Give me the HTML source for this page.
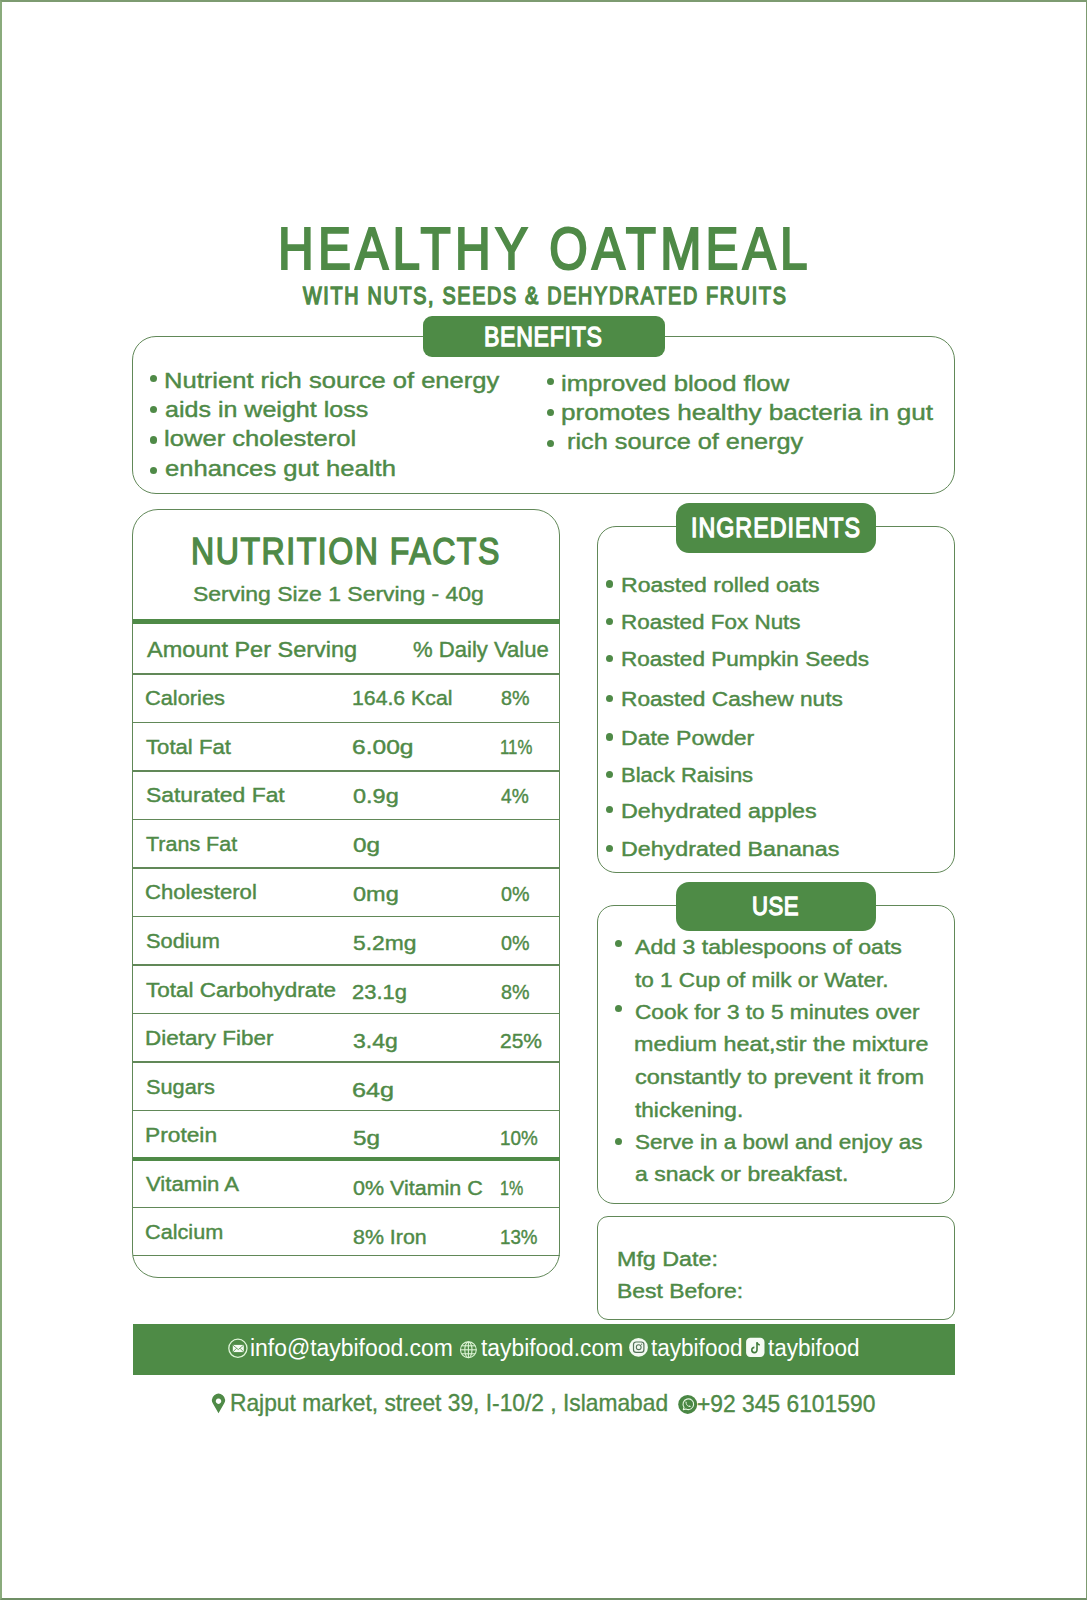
<!DOCTYPE html>
<html><head><meta charset="utf-8"><style>
html,body{margin:0;padding:0;background:#fff;}
body{width:1087px;height:1600px;position:relative;overflow:hidden;font-family:"Liberation Sans",sans-serif;}
.box{position:absolute;box-sizing:border-box;}
.t{position:absolute;white-space:nowrap;line-height:1;transform-origin:0 0;}
svg{position:absolute;}
</style></head><body>
<div class="box" style="left:0;top:0;width:1087px;height:1600px;box-sizing:border-box;border-style:solid;border-color:#7d9b71 #7d9b71 #6f8f65 #8aab7c;border-width:2px 1.3px 2px 2px"></div>
<div class="box" style="left:132.30px;top:335.70px;width:823.00px;height:157.90px;border-radius:24px;border:1.4px solid #618858"></div>
<div class="box" style="left:422.7px;top:316.3px;width:242.00px;height:40.40px;background:#4e8b46;border-radius:9px"></div>
<div class="box" style="left:150.20px;top:374.80px;width:7.2px;height:7.2px;border-radius:50%;background:#4f8a47"></div>
<div class="box" style="left:150.20px;top:405.70px;width:7.2px;height:7.2px;border-radius:50%;background:#4f8a47"></div>
<div class="box" style="left:150.20px;top:436.40px;width:7.2px;height:7.2px;border-radius:50%;background:#4f8a47"></div>
<div class="box" style="left:150.20px;top:466.80px;width:7.2px;height:7.2px;border-radius:50%;background:#4f8a47"></div>
<div class="box" style="left:546.50px;top:378.10px;width:7.2px;height:7.2px;border-radius:50%;background:#4f8a47"></div>
<div class="box" style="left:546.50px;top:408.80px;width:7.2px;height:7.2px;border-radius:50%;background:#4f8a47"></div>
<div class="box" style="left:546.50px;top:439.60px;width:7.2px;height:7.2px;border-radius:50%;background:#4f8a47"></div>
<div class="box" style="left:132.30px;top:509.10px;width:427.90px;height:769.10px;border-radius:26px;border:1.4px solid #618858"></div>
<div class="box" style="left:133px;top:619.2px;width:426.50px;height:4.60px;background:#4f8a47;border-radius:0px"></div>
<div class="box" style="left:133px;top:673.45px;width:426.50px;height:1.30px;background:#618858;border-radius:0px"></div>
<div class="box" style="left:133px;top:721.75px;width:426.50px;height:1.30px;background:#618858;border-radius:0px"></div>
<div class="box" style="left:133px;top:770.35px;width:426.50px;height:1.30px;background:#618858;border-radius:0px"></div>
<div class="box" style="left:133px;top:818.75px;width:426.50px;height:1.30px;background:#618858;border-radius:0px"></div>
<div class="box" style="left:133px;top:867.35px;width:426.50px;height:1.30px;background:#618858;border-radius:0px"></div>
<div class="box" style="left:133px;top:915.75px;width:426.50px;height:1.30px;background:#618858;border-radius:0px"></div>
<div class="box" style="left:133px;top:964.35px;width:426.50px;height:1.30px;background:#618858;border-radius:0px"></div>
<div class="box" style="left:133px;top:1012.75px;width:426.50px;height:1.30px;background:#618858;border-radius:0px"></div>
<div class="box" style="left:133px;top:1061.35px;width:426.50px;height:1.30px;background:#618858;border-radius:0px"></div>
<div class="box" style="left:133px;top:1109.75px;width:426.50px;height:1.30px;background:#618858;border-radius:0px"></div>
<div class="box" style="left:133px;top:1206.75px;width:426.50px;height:1.30px;background:#618858;border-radius:0px"></div>
<div class="box" style="left:133px;top:1254.9499999999998px;width:426.50px;height:1.30px;background:#618858;border-radius:0px"></div>
<div class="box" style="left:133px;top:1156.6px;width:426.50px;height:4.00px;background:#4f8a47;border-radius:0px"></div>
<div class="box" style="left:596.60px;top:526.10px;width:358.70px;height:347.10px;border-radius:19px;border:1.4px solid #618858"></div>
<div class="box" style="left:676.2px;top:502.5px;width:199.40px;height:50.30px;background:#4e8b46;border-radius:13px"></div>
<div class="box" style="left:606.10px;top:580.40px;width:7.2px;height:7.2px;border-radius:50%;background:#4f8a47"></div>
<div class="box" style="left:606.10px;top:618.10px;width:7.2px;height:7.2px;border-radius:50%;background:#4f8a47"></div>
<div class="box" style="left:606.10px;top:654.70px;width:7.2px;height:7.2px;border-radius:50%;background:#4f8a47"></div>
<div class="box" style="left:606.10px;top:695.00px;width:7.2px;height:7.2px;border-radius:50%;background:#4f8a47"></div>
<div class="box" style="left:606.10px;top:733.40px;width:7.2px;height:7.2px;border-radius:50%;background:#4f8a47"></div>
<div class="box" style="left:606.10px;top:771.10px;width:7.2px;height:7.2px;border-radius:50%;background:#4f8a47"></div>
<div class="box" style="left:606.10px;top:806.30px;width:7.2px;height:7.2px;border-radius:50%;background:#4f8a47"></div>
<div class="box" style="left:606.10px;top:844.70px;width:7.2px;height:7.2px;border-radius:50%;background:#4f8a47"></div>
<div class="box" style="left:596.60px;top:904.70px;width:358.70px;height:299.20px;border-radius:17px;border:1.4px solid #618858"></div>
<div class="box" style="left:676.2px;top:881.6px;width:199.40px;height:49.60px;background:#4e8b46;border-radius:13px"></div>
<div class="box" style="left:615.20px;top:940.00px;width:7.2px;height:7.2px;border-radius:50%;background:#4f8a47"></div>
<div class="box" style="left:615.20px;top:1004.50px;width:7.2px;height:7.2px;border-radius:50%;background:#4f8a47"></div>
<div class="box" style="left:615.20px;top:1138.20px;width:7.2px;height:7.2px;border-radius:50%;background:#4f8a47"></div>
<div class="box" style="left:596.60px;top:1215.80px;width:358.70px;height:103.90px;border-radius:11px;border:1.4px solid #618858"></div>
<div class="box" style="left:133px;top:1324.1px;width:821.60px;height:50.50px;background:#4e8b46;border-radius:0px"></div>
<div class="t" style="left:277.56px;top:220.41px;font-size:58.86px;font-weight:400;color:#4f8a47;transform:scaleX(0.8400);letter-spacing:5.083px;-webkit-text-stroke:2.2px #4f8a47;">HEALTHY OATMEAL</div>
<div class="t" style="left:302.60px;top:284.31px;font-size:24.70px;font-weight:400;color:#4f8a47;transform:scaleX(0.8000);letter-spacing:2.132px;-webkit-text-stroke:1.5px #4f8a47;">WITH NUTS, SEEDS &amp; DEHYDRATED FRUITS</div>
<div class="t" style="left:484.14px;top:324.05px;font-size:26.89px;font-weight:400;color:#ffffff;transform:scaleX(0.8600);letter-spacing:0.812px;-webkit-text-stroke:1.3px #ffffff;">BENEFITS</div>
<div class="t" style="left:164.43px;top:369.79px;font-size:21.17px;font-weight:400;color:#4f8a47;transform:scaleX(1.2083);-webkit-text-stroke:0.4px #4f8a47;">Nutrient rich source of energy</div>
<div class="t" style="left:165.04px;top:398.69px;font-size:21.17px;font-weight:400;color:#4f8a47;transform:scaleX(1.1836);-webkit-text-stroke:0.4px #4f8a47;">aids in weight loss</div>
<div class="t" style="left:164.43px;top:428.19px;font-size:21.17px;font-weight:400;color:#4f8a47;transform:scaleX(1.2106);-webkit-text-stroke:0.4px #4f8a47;">lower cholesterol</div>
<div class="t" style="left:165.04px;top:457.59px;font-size:21.17px;font-weight:400;color:#4f8a47;transform:scaleX(1.2119);-webkit-text-stroke:0.4px #4f8a47;">enhances gut health</div>
<div class="t" style="left:560.73px;top:372.99px;font-size:21.17px;font-weight:400;color:#4f8a47;transform:scaleX(1.2126);-webkit-text-stroke:0.4px #4f8a47;">improved blood flow</div>
<div class="t" style="left:560.71px;top:402.39px;font-size:21.17px;font-weight:400;color:#4f8a47;transform:scaleX(1.2356);-webkit-text-stroke:0.4px #4f8a47;">promotes healthy bacteria in gut</div>
<div class="t" style="left:566.64px;top:431.29px;font-size:21.17px;font-weight:400;color:#4f8a47;transform:scaleX(1.1957);-webkit-text-stroke:0.4px #4f8a47;">rich source of energy</div>
<div class="t" style="left:190.56px;top:533.26px;font-size:37.28px;font-weight:400;color:#4f8a47;transform:scaleX(0.8600);letter-spacing:1.800px;-webkit-text-stroke:1.5px #4f8a47;">NUTRITION FACTS</div>
<div class="t" style="left:192.83px;top:583.66px;font-size:20.37px;font-weight:400;color:#4f8a47;transform:scaleX(1.1271);-webkit-text-stroke:0.4px #4f8a47;">Serving Size 1 Serving - 40g</div>
<div class="t" style="left:146.52px;top:638.59px;font-size:21.17px;font-weight:400;color:#4f8a47;transform:scaleX(1.1098);-webkit-text-stroke:0.4px #4f8a47;">Amount Per Serving</div>
<div class="t" style="left:413.31px;top:638.59px;font-size:21.17px;font-weight:400;color:#4f8a47;transform:scaleX(1.0434);-webkit-text-stroke:0.4px #4f8a47;">% Daily Value</div>
<div class="t" style="left:145.14px;top:687.68px;font-size:20.24px;font-weight:400;color:#4f8a47;transform:scaleX(1.0762);-webkit-text-stroke:0.4px #4f8a47;">Calories</div>
<div class="t" style="left:351.86px;top:688.38px;font-size:20.24px;font-weight:400;color:#4f8a47;transform:scaleX(1.0505);-webkit-text-stroke:0.4px #4f8a47;">164.6 Kcal</div>
<div class="t" style="left:501.09px;top:688.38px;font-size:20.24px;font-weight:400;color:#4f8a47;transform:scaleX(0.9746);-webkit-text-stroke:0.4px #4f8a47;">8%</div>
<div class="t" style="left:146.22px;top:736.78px;font-size:20.24px;font-weight:400;color:#4f8a47;transform:scaleX(1.0947);-webkit-text-stroke:0.4px #4f8a47;">Total Fat</div>
<div class="t" style="left:351.73px;top:737.18px;font-size:20.24px;font-weight:400;color:#4f8a47;transform:scaleX(1.2136);-webkit-text-stroke:0.4px #4f8a47;">6.00g</div>
<div class="t" style="left:500.24px;top:737.18px;font-size:20.24px;font-weight:400;color:#4f8a47;transform:scaleX(0.8280);-webkit-text-stroke:0.4px #4f8a47;">11%</div>
<div class="t" style="left:146.23px;top:785.08px;font-size:20.24px;font-weight:400;color:#4f8a47;transform:scaleX(1.1315);-webkit-text-stroke:0.4px #4f8a47;">Saturated Fat</div>
<div class="t" style="left:352.93px;top:786.28px;font-size:20.24px;font-weight:400;color:#4f8a47;transform:scaleX(1.1602);-webkit-text-stroke:0.4px #4f8a47;">0.9g</div>
<div class="t" style="left:501.09px;top:786.28px;font-size:20.24px;font-weight:400;color:#4f8a47;transform:scaleX(0.9476);-webkit-text-stroke:0.4px #4f8a47;">4%</div>
<div class="t" style="left:146.21px;top:833.88px;font-size:20.24px;font-weight:400;color:#4f8a47;transform:scaleX(1.0623);-webkit-text-stroke:0.4px #4f8a47;">Trans Fat</div>
<div class="t" style="left:352.94px;top:835.38px;font-size:20.24px;font-weight:400;color:#4f8a47;transform:scaleX(1.2007);-webkit-text-stroke:0.4px #4f8a47;">0g</div>
<div class="t" style="left:145.13px;top:882.38px;font-size:20.24px;font-weight:400;color:#4f8a47;transform:scaleX(1.0923);-webkit-text-stroke:0.4px #4f8a47;">Cholesterol</div>
<div class="t" style="left:352.93px;top:884.28px;font-size:20.24px;font-weight:400;color:#4f8a47;transform:scaleX(1.1608);-webkit-text-stroke:0.4px #4f8a47;">0mg</div>
<div class="t" style="left:501.09px;top:884.28px;font-size:20.24px;font-weight:400;color:#4f8a47;transform:scaleX(0.9746);-webkit-text-stroke:0.4px #4f8a47;">0%</div>
<div class="t" style="left:146.22px;top:930.68px;font-size:20.24px;font-weight:400;color:#4f8a47;transform:scaleX(1.0770);-webkit-text-stroke:0.4px #4f8a47;">Sodium</div>
<div class="t" style="left:352.93px;top:932.58px;font-size:20.24px;font-weight:400;color:#4f8a47;transform:scaleX(1.1285);-webkit-text-stroke:0.4px #4f8a47;">5.2mg</div>
<div class="t" style="left:501.09px;top:932.58px;font-size:20.24px;font-weight:400;color:#4f8a47;transform:scaleX(0.9746);-webkit-text-stroke:0.4px #4f8a47;">0%</div>
<div class="t" style="left:146.22px;top:980.08px;font-size:20.24px;font-weight:400;color:#4f8a47;transform:scaleX(1.1110);-webkit-text-stroke:0.4px #4f8a47;">Total Carbohydrate</div>
<div class="t" style="left:351.83px;top:982.38px;font-size:20.24px;font-weight:400;color:#4f8a47;transform:scaleX(1.0844);-webkit-text-stroke:0.4px #4f8a47;">23.1g</div>
<div class="t" style="left:501.09px;top:982.38px;font-size:20.24px;font-weight:400;color:#4f8a47;transform:scaleX(0.9746);-webkit-text-stroke:0.4px #4f8a47;">8%</div>
<div class="t" style="left:145.11px;top:1028.38px;font-size:20.24px;font-weight:400;color:#4f8a47;transform:scaleX(1.1085);-webkit-text-stroke:0.4px #4f8a47;">Dietary Fiber</div>
<div class="t" style="left:352.93px;top:1030.88px;font-size:20.24px;font-weight:400;color:#4f8a47;transform:scaleX(1.1368);-webkit-text-stroke:0.4px #4f8a47;">3.4g</div>
<div class="t" style="left:500.07px;top:1030.88px;font-size:20.24px;font-weight:400;color:#4f8a47;transform:scaleX(1.0374);-webkit-text-stroke:0.4px #4f8a47;">25%</div>
<div class="t" style="left:146.21px;top:1077.38px;font-size:20.24px;font-weight:400;color:#4f8a47;transform:scaleX(1.0746);-webkit-text-stroke:0.4px #4f8a47;">Sugars</div>
<div class="t" style="left:351.70px;top:1080.08px;font-size:20.24px;font-weight:400;color:#4f8a47;transform:scaleX(1.2442);-webkit-text-stroke:0.4px #4f8a47;">64g</div>
<div class="t" style="left:145.10px;top:1125.28px;font-size:20.24px;font-weight:400;color:#4f8a47;transform:scaleX(1.1243);-webkit-text-stroke:0.4px #4f8a47;">Protein</div>
<div class="t" style="left:352.94px;top:1128.38px;font-size:20.24px;font-weight:400;color:#4f8a47;transform:scaleX(1.2007);-webkit-text-stroke:0.4px #4f8a47;">5g</div>
<div class="t" style="left:500.15px;top:1128.38px;font-size:20.24px;font-weight:400;color:#4f8a47;transform:scaleX(0.9322);-webkit-text-stroke:0.4px #4f8a47;">10%</div>
<div class="t" style="left:146.22px;top:1173.98px;font-size:20.24px;font-weight:400;color:#4f8a47;transform:scaleX(1.0938);-webkit-text-stroke:0.4px #4f8a47;">Vitamin A</div>
<div class="t" style="left:352.91px;top:1177.88px;font-size:20.24px;font-weight:400;color:#4f8a47;transform:scaleX(1.0615);-webkit-text-stroke:0.4px #4f8a47;">0% Vitamin C</div>
<div class="t" style="left:500.27px;top:1177.88px;font-size:20.24px;font-weight:400;color:#4f8a47;transform:scaleX(0.7922);-webkit-text-stroke:0.4px #4f8a47;">1%</div>
<div class="t" style="left:145.14px;top:1221.88px;font-size:20.24px;font-weight:400;color:#4f8a47;transform:scaleX(1.0708);-webkit-text-stroke:0.4px #4f8a47;">Calcium</div>
<div class="t" style="left:352.91px;top:1226.88px;font-size:20.24px;font-weight:400;color:#4f8a47;transform:scaleX(1.0569);-webkit-text-stroke:0.4px #4f8a47;">8% Iron</div>
<div class="t" style="left:500.16px;top:1226.88px;font-size:20.24px;font-weight:400;color:#4f8a47;transform:scaleX(0.9272);-webkit-text-stroke:0.4px #4f8a47;">13%</div>
<div class="t" style="left:691.04px;top:515.14px;font-size:27.03px;font-weight:400;color:#ffffff;transform:scaleX(0.8600);letter-spacing:1.186px;-webkit-text-stroke:1.3px #ffffff;">INGREDIENTS</div>
<div class="t" style="left:620.54px;top:575.66px;font-size:19.31px;font-weight:400;color:#4f8a47;transform:scaleX(1.1944);-webkit-text-stroke:0.4px #4f8a47;">Roasted rolled oats</div>
<div class="t" style="left:620.57px;top:613.36px;font-size:19.31px;font-weight:400;color:#4f8a47;transform:scaleX(1.1626);-webkit-text-stroke:0.4px #4f8a47;">Roasted Fox Nuts</div>
<div class="t" style="left:620.57px;top:649.96px;font-size:19.31px;font-weight:400;color:#4f8a47;transform:scaleX(1.1679);-webkit-text-stroke:0.4px #4f8a47;">Roasted Pumpkin Seeds</div>
<div class="t" style="left:620.56px;top:690.26px;font-size:19.31px;font-weight:400;color:#4f8a47;transform:scaleX(1.1752);-webkit-text-stroke:0.4px #4f8a47;">Roasted Cashew nuts</div>
<div class="t" style="left:620.54px;top:728.66px;font-size:19.31px;font-weight:400;color:#4f8a47;transform:scaleX(1.1944);-webkit-text-stroke:0.4px #4f8a47;">Date Powder</div>
<div class="t" style="left:620.59px;top:766.36px;font-size:19.31px;font-weight:400;color:#4f8a47;transform:scaleX(1.1408);-webkit-text-stroke:0.4px #4f8a47;">Black Raisins</div>
<div class="t" style="left:620.53px;top:801.56px;font-size:19.31px;font-weight:400;color:#4f8a47;transform:scaleX(1.2082);-webkit-text-stroke:0.4px #4f8a47;">Dehydrated apples</div>
<div class="t" style="left:620.54px;top:839.96px;font-size:19.31px;font-weight:400;color:#4f8a47;transform:scaleX(1.2041);-webkit-text-stroke:0.4px #4f8a47;">Dehydrated Bananas</div>
<div class="t" style="left:751.90px;top:894.18px;font-size:25.68px;font-weight:400;color:#ffffff;transform:scaleX(0.8600);letter-spacing:0.681px;-webkit-text-stroke:1.3px #ffffff;">USE</div>
<div class="t" style="left:634.74px;top:938.35px;font-size:19.45px;font-weight:400;color:#4f8a47;transform:scaleX(1.1874);-webkit-text-stroke:0.4px #4f8a47;">Add 3 tablespoons of oats</div>
<div class="t" style="left:634.73px;top:970.65px;font-size:19.45px;font-weight:400;color:#4f8a47;transform:scaleX(1.1596);-webkit-text-stroke:0.4px #4f8a47;">to 1 Cup of milk or Water.</div>
<div class="t" style="left:634.73px;top:1002.95px;font-size:19.45px;font-weight:400;color:#4f8a47;transform:scaleX(1.1653);-webkit-text-stroke:0.4px #4f8a47;">Cook for 3 to 5 minutes over</div>
<div class="t" style="left:633.54px;top:1035.25px;font-size:19.45px;font-weight:400;color:#4f8a47;transform:scaleX(1.2009);-webkit-text-stroke:0.4px #4f8a47;">medium heat,stir the mixture</div>
<div class="t" style="left:634.74px;top:1068.45px;font-size:19.45px;font-weight:400;color:#4f8a47;transform:scaleX(1.2111);-webkit-text-stroke:0.4px #4f8a47;">constantly to prevent it from</div>
<div class="t" style="left:634.73px;top:1100.65px;font-size:19.45px;font-weight:400;color:#4f8a47;transform:scaleX(1.1640);-webkit-text-stroke:0.4px #4f8a47;">thickening.</div>
<div class="t" style="left:634.73px;top:1132.95px;font-size:19.45px;font-weight:400;color:#4f8a47;transform:scaleX(1.1565);-webkit-text-stroke:0.4px #4f8a47;">Serve in a bowl and enjoy as</div>
<div class="t" style="left:634.74px;top:1165.25px;font-size:19.45px;font-weight:400;color:#4f8a47;transform:scaleX(1.1821);-webkit-text-stroke:0.4px #4f8a47;">a snack or breakfast.</div>
<div class="t" style="left:616.73px;top:1249.76px;font-size:19.31px;font-weight:400;color:#4f8a47;transform:scaleX(1.2070);-webkit-text-stroke:0.4px #4f8a47;">Mfg Date:</div>
<div class="t" style="left:616.75px;top:1281.96px;font-size:19.31px;font-weight:400;color:#4f8a47;transform:scaleX(1.1878);-webkit-text-stroke:0.4px #4f8a47;">Best Before:</div>
<div class="t" style="left:250.31px;top:1337.00px;font-size:23.04px;font-weight:400;color:#ffffff;transform:scaleX(0.9950);">info@taybifood.com</div>
<div class="t" style="left:481.00px;top:1337.00px;font-size:23.04px;font-weight:400;color:#ffffff;transform:scaleX(0.9916);">taybifood.com</div>
<div class="t" style="left:650.70px;top:1337.00px;font-size:23.04px;font-weight:400;color:#ffffff;transform:scaleX(0.9788);">taybifood</div>
<div class="t" style="left:768.00px;top:1337.00px;font-size:23.04px;font-weight:400;color:#ffffff;transform:scaleX(0.9788);">taybifood</div>
<div class="t" style="left:229.59px;top:1392.18px;font-size:23.19px;font-weight:400;color:#4f8a47;transform:scaleX(0.9825);-webkit-text-stroke:0.35px #4f8a47;">Rajput market, street 39, I-10/2 , Islamabad</div>
<div class="t" style="left:697.19px;top:1392.68px;font-size:23.19px;font-weight:400;color:#4f8a47;transform:scaleX(0.9843);-webkit-text-stroke:0.35px #4f8a47;">+92 345 6101590</div>
<svg style="left:226px;top:1337px" width="24" height="24" viewBox="226 1337 24 24">
  <circle cx="237.9" cy="1348.3" r="9.1" fill="none" stroke="#dff5d8" stroke-width="1.3"/>
  <rect x="232.8" y="1344.9" width="11" height="7.2" fill="#f4fbf2"/>
  <path d="M232.9 1345.1 L238.3 1349.6 L243.7 1345.1 M232.9 1352 L236.5 1348.3 M243.7 1352 L240.1 1348.3" fill="none" stroke="#4e8b46" stroke-width="0.8"/>
</svg>
<svg style="left:456px;top:1338px" width="24" height="24" viewBox="456 1338 24 24">
  <g fill="none" stroke="#dcf3d4" stroke-width="1.1">
    <circle cx="468.4" cy="1349.8" r="7.9"/>
    <ellipse cx="468.4" cy="1349.8" rx="3.6" ry="7.9"/>
    <line x1="468.4" y1="1341.9" x2="468.4" y2="1357.7"/>
    <line x1="460.5" y1="1349.8" x2="476.3" y2="1349.8"/>
    <line x1="461.6" y1="1345.8" x2="475.2" y2="1345.8"/>
    <line x1="461.6" y1="1353.8" x2="475.2" y2="1353.8"/>
  </g>
</svg>
<svg style="left:627px;top:1336px" width="24" height="24" viewBox="627 1336 24 24">
  <circle cx="638.5" cy="1347.4" r="9.4" fill="#f2faf0"/>
  <rect x="633.5" y="1342" width="10.4" height="10.4" rx="2.6" fill="none" stroke="#55745a" stroke-width="1.2"/>
  <circle cx="638.7" cy="1347.2" r="2.4" fill="none" stroke="#55745a" stroke-width="1.1"/>
  <circle cx="641.6" cy="1344.2" r="0.6" fill="#55745a"/>
</svg>
<svg style="left:744px;top:1336px" width="24" height="24" viewBox="744 1336 24 24">
  <rect x="746.1" y="1337.8" width="18.4" height="19.1" rx="4.2" fill="#f6fbf5"/>
  <path d="M757 1342.3 L757 1350 A2.6 2.6 0 1 1 754.4 1347.4" fill="none" stroke="#3f7a3a" stroke-width="1.6"/>
  <path d="M757 1342.5 Q757.5 1344.5 759.8 1345" fill="none" stroke="#3f7a3a" stroke-width="1.5"/>
</svg>
<svg style="left:209px;top:1392px" width="20" height="24" viewBox="209 1391 20 24">
  <path d="M218.5 1412.2 L212.9 1402.6 A6.5 6.5 0 1 1 224.1 1402.6 Z M218.5 1397.5 A2.7 2.7 0 1 0 218.51 1397.5 Z" fill="#4f8a47" fill-rule="evenodd"/>
</svg>
<svg style="left:676px;top:1393px" width="24" height="24" viewBox="676 1393 24 24">
  <circle cx="687.7" cy="1404.4" r="9.5" fill="#4a8744"/>
  <path d="M683.3 1409.6 L684 1407.3 A5.3 5.3 0 1 1 686 1409 Z" fill="none" stroke="#e8f7e3" stroke-width="1.1" stroke-linejoin="round"/>
  <path d="M685.4 1401.6 Q685.2 1403.8 687.3 1405.8 Q689.4 1407.6 690.8 1406.9 L690.2 1405.8 L689 1405.6 L688.5 1406 Q687 1405 686.4 1403.6 L686.8 1403 L686.4 1401.8 Z" fill="#e8f7e3"/>
</svg>

</body></html>
